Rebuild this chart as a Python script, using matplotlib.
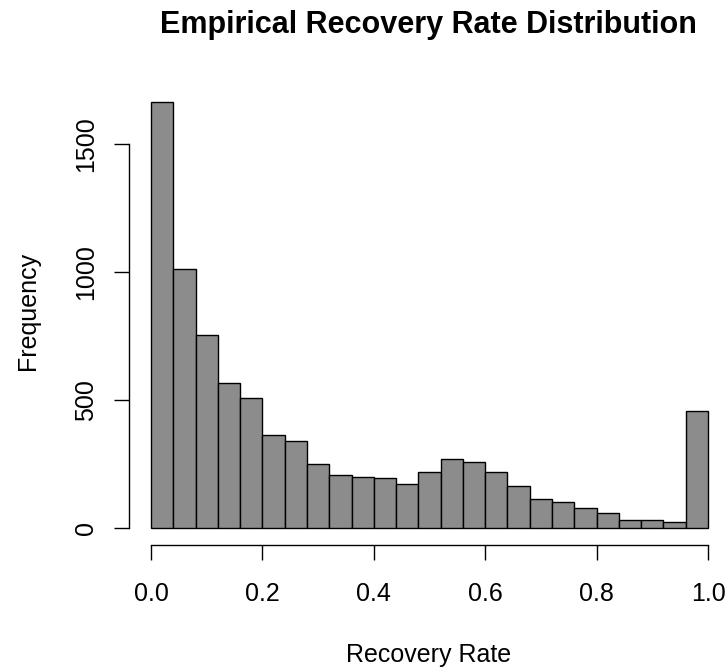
import numpy as np
import matplotlib.pyplot as plt
from matplotlib.transforms import offset_copy

# histogram of recovery rates, 25 bins of width 0.04
bin_edges = np.linspace(0, 1, 26)
counts = [1664, 1009, 754, 566, 505, 362, 339, 249, 206, 199, 193, 169,
          219, 268, 255, 219, 163, 113, 99, 76, 56, 30, 30, 23, 456]
y_ticks = [0, 500, 1000, 1500]
x_ticks = [0.0, 0.2, 0.4, 0.6, 0.8, 1.0]

W, H = 726, 667
plt.rcParams['font.family'] = ['Liberation Sans', 'DejaVu Sans']
fig = plt.figure(figsize=(W / 100, H / 100), dpi=100)

# plot region in pixels (R style, 4% padding)
left, right, top, bottom = 128.7, 730.3, 84.8, 544.7
ax = fig.add_axes([left / W, 1 - bottom / H, (right - left) / W, (bottom - top) / H])

ax.bar(bin_edges[:-1], counts, width=np.diff(bin_edges), align='edge',
       color='#8c8c8c', edgecolor='black', linewidth=1.0)

ax.set_xlim(-0.04, 1.04)
ax.set_ylim(-0.04 * max(counts), 1.04 * max(counts))

for s in ['top', 'right']:
    ax.spines[s].set_visible(False)
ax.spines['left'].set_bounds(0, 1500)
ax.spines['bottom'].set_bounds(0, 1)
ax.spines['left'].set_linewidth(1.0)
ax.spines['bottom'].set_linewidth(1.0)

ax.set_xticks(x_ticks)
ax.set_yticks(y_ticks)
ax.tick_params(axis='both', length=10.6, width=1.0, color='black',
               labelbottom=False, labelleft=False)

fs = 18
# tick labels placed like R's axis()
tx = offset_copy(ax.get_xaxis_transform(), fig, y=-56, units='dots')
for v in x_ticks:
    ax.text(v, 0, '%.1f' % v, transform=tx, ha='center', va='baseline', fontsize=fs)
ty = offset_copy(ax.get_yaxis_transform(), fig, x=-36, units='dots')
for v in y_ticks:
    ax.text(0, v, str(v), transform=ty, ha='center', va='baseline', fontsize=fs,
            rotation=90, rotation_mode='anchor')

fig.text(429 / W, 1 - 662 / H, 'Recovery Rate', ha='center', va='baseline', fontsize=fs)
fig.text(35 / W, 1 - 311 / H, 'Frequency', ha='center', va='baseline', fontsize=fs,
         rotation=90, rotation_mode='anchor')
fig.text(428 / W, 1 - 33 / H, 'Empirical Recovery Rate Distribution',
         ha='center', va='baseline', fontsize=22, fontweight='bold')

fig.savefig('out.png', dpi=100)
